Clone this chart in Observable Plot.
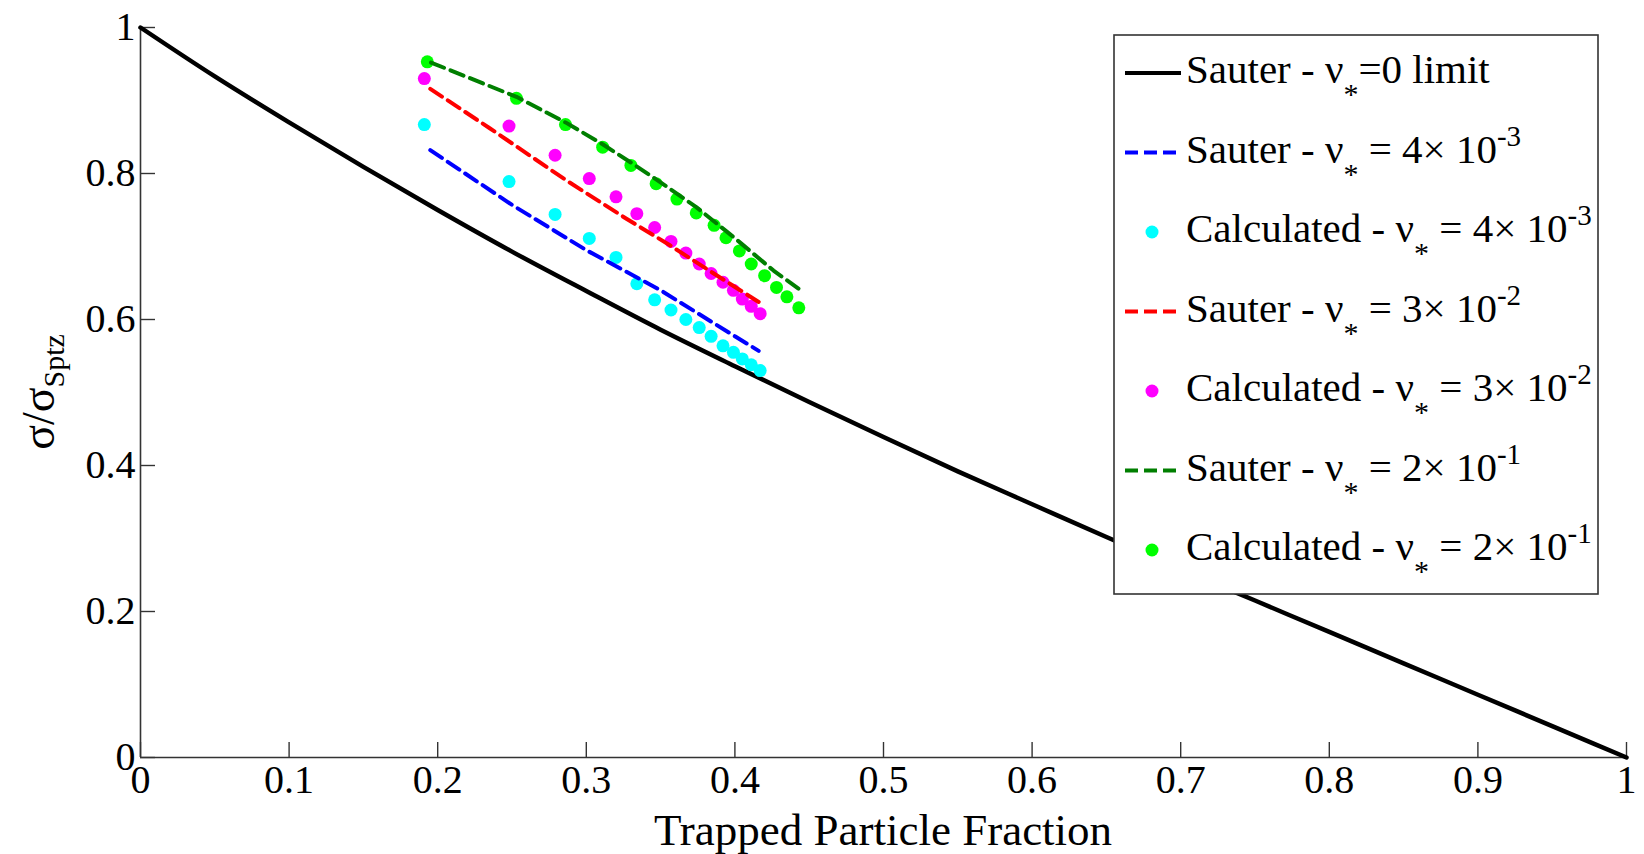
<!DOCTYPE html>
<html><head><meta charset="utf-8">
<script src="https://cdn.jsdelivr.net/npm/d3@7"></script>
<script src="https://cdn.jsdelivr.net/npm/@observablehq/plot@0.6"></script>
<style>
html,body{margin:0;padding:0;background:#fff;}
#wrap{position:relative;width:1644px;height:854px;}
#wrap svg{display:block;}
#legend{position:absolute;left:0;top:0;pointer-events:none;}
</style></head><body><div id="wrap"></div>
<script>
// ---- data ----
const xTicks = [0,0.1,0.2,0.3,0.4,0.5,0.6,0.7,0.8,0.9,1];
const yTicks = [0,0.2,0.4,0.6,0.8,1];

// Sauter, nu* = 0 limit (black solid)
const limitFt    = [0,0.05,0.1,0.15,0.2,0.25,0.3,0.35,0.4,0.45,0.5,0.55,0.6,0.65,0.7,0.75,0.8,0.85,0.9,0.95,1];
const limitSigma = [1,0.933,0.870,0.809,0.750,0.693,0.639,0.586,0.536,0.487,0.439,0.392,0.347,0.302,0.258,0.215,0.172,0.129,0.086,0.043,0];

// Sauter dashed curves
const blueFt     = [0.195,0.25,0.30,0.35,0.40,0.416];
const blueSigma  = [0.832,0.757,0.695,0.640,0.577,0.557];
const redFt      = [0.195,0.235,0.287,0.327,0.356,0.385,0.416];
const redSigma   = [0.916,0.862,0.790,0.738,0.702,0.664,0.624];
const greenFt    = [0.1955,0.253,0.286,0.311,0.330,0.347,0.374,0.399,0.4125,0.426,0.443];
const greenSigma = [0.952,0.905,0.870,0.840,0.815,0.792,0.754,0.713,0.690,0.667,0.642];

// Calculated points
const calcFt       = [0.191,0.248,0.279,0.302,0.320,0.334,0.346,0.357,0.367,0.376,0.384,0.392,0.399,0.405,0.411,0.417];
const cyanSigma    = [0.867,0.789,0.744,0.711,0.685,0.649,0.627,0.613,0.600,0.589,0.577,0.564,0.555,0.546,0.538,0.530];
const magentaSigma = [0.930,0.865,0.825,0.793,0.768,0.745,0.726,0.707,0.691,0.676,0.663,0.651,0.640,0.628,0.618,0.608];
const greenCalcFt    = [0.193,0.253,0.286,0.311,0.330,0.347,0.361,0.374,0.386,0.394,0.403,0.411,0.420,0.428,0.435,0.443];
const greenCalcSigma = [0.953,0.903,0.867,0.836,0.811,0.786,0.765,0.746,0.729,0.712,0.694,0.676,0.660,0.644,0.631,0.616];

const colors = {limit:"#000000", blue:"#0000ff", cyan:"#00ffff", red:"#ff0000", magenta:"#ff00ff", dgreen:"#007f00", lgreen:"#00ff00"};
const legendRows = [
  {type:"line", color:colors.limit, dash:null, name:"Sauter", value:"=0 limit", exp:null},
  {type:"line", color:colors.blue, dash:"13,6", name:"Sauter", value:" = 4× 10", exp:"-3"},
  {type:"dot",  color:colors.cyan, name:"Calculated", value:" = 4× 10", exp:"-3"},
  {type:"line", color:colors.red, dash:"13,6", name:"Sauter", value:" = 3× 10", exp:"-2"},
  {type:"dot",  color:colors.magenta, name:"Calculated", value:" = 3× 10", exp:"-2"},
  {type:"line", color:colors.dgreen, dash:"13,6", name:"Sauter", value:" = 2× 10", exp:"-1"},
  {type:"dot",  color:colors.lgreen, name:"Calculated", value:" = 2× 10", exp:"-1"}
];

// ---- build tables ----
const zip = (xs, ys) => xs.map((x, i) => ({x, y: ys[i]}));
const limit = zip(limitFt, limitSigma);
const blue = zip(blueFt, blueSigma);
const red = zip(redFt, redSigma);
const green = zip(greenFt, greenSigma);
const cyanPts = zip(calcFt, cyanSigma);
const magPts = zip(calcFt, magentaSigma);
const greenPts = zip(greenCalcFt, greenCalcSigma);

const FONT = "'Liberation Serif','Times New Roman',serif";
const W = 1644, H = 854;
const dash = "14,7";

const chart = Plot.plot({
  width: W, height: H,
  marginLeft: 140, marginRight: 18, marginTop: 27, marginBottom: 97,
  style: {fontFamily: FONT, fontSize: "40px", background: "#fff", color: "#000", overflow: "visible"},
  x: {domain: [0, 1]},
  y: {domain: [0, 1]},
  marks: [
    Plot.ruleX([0], {stroke: "#333", strokeWidth: 1.6}),
    Plot.ruleY([0], {stroke: "#333", strokeWidth: 1.6}),
    Plot.axisX(xTicks, {tickSize: -15, tickPadding: 22, stroke: "#333", strokeWidth: 1.4, tickFormat: d => String(d), label: null, fill: "#000"}),
    Plot.axisY(yTicks, {tickSize: -15, tickPadding: 20, stroke: "#333", strokeWidth: 1.4, tickFormat: d => String(d), label: null, fill: "#000"}),
    Plot.line(limit, {x: "x", y: "y", stroke: colors.limit, strokeWidth: 4.5, curve: "monotone-x"}),
    Plot.dot(cyanPts, {x: "x", y: "y", r: 6.5, fill: colors.cyan, stroke: null}),
    Plot.dot(magPts, {x: "x", y: "y", r: 6.5, fill: colors.magenta, stroke: null}),
    Plot.dot(greenPts, {x: "x", y: "y", r: 6.5, fill: colors.lgreen, stroke: null}),
    Plot.line(blue, {x: "x", y: "y", stroke: colors.blue, strokeWidth: 4, strokeDasharray: dash}),
    Plot.line(red, {x: "x", y: "y", stroke: colors.red, strokeWidth: 4, strokeDasharray: dash}),
    Plot.line(green, {x: "x", y: "y", stroke: colors.dgreen, strokeWidth: 4, strokeDasharray: dash})
  ]
});
const wrap = document.getElementById("wrap");
wrap.appendChild(chart);

// axis titles
const svg = d3.select(chart);
svg.append("text")
  .attr("x", 883).attr("y", 845)
  .attr("text-anchor", "middle")
  .attr("font-family", FONT).attr("font-size", 45).attr("fill", "#000")
  .text("Trapped Particle Fraction");
const yl = svg.append("text")
  .attr("transform", "translate(54,392) rotate(-90)")
  .attr("text-anchor", "middle")
  .attr("font-family", FONT).attr("font-size", 46).attr("fill", "#000");
yl.append("tspan").text("σ/σ");
yl.append("tspan").attr("dy", 10).attr("font-size", 30).text("Sptz");

// legend overlay
const lg = d3.select(wrap).append("svg").attr("id", "legend")
  .attr("width", W).attr("height", H);
lg.append("rect").attr("x", 1114).attr("y", 35).attr("width", 484).attr("height", 559)
  .attr("fill", "#fff").attr("stroke", "#333").attr("stroke-width", 1.6);
legendRows.forEach((r, i) => {
  const base = 83 + i * 79.5;
  if (r.type === "line") {
    lg.append("line").attr("x1", 1125).attr("x2", 1181).attr("y1", base - 10).attr("y2", base - 10)
      .attr("stroke", r.color).attr("stroke-width", 4)
      .attr("stroke-dasharray", r.dash);
  } else {
    lg.append("circle").attr("cx", 1152).attr("cy", base - 10).attr("r", 6.5).attr("fill", r.color);
  }
  const t = lg.append("text").attr("x", 1186).attr("y", base)
    .attr("font-family", FONT).attr("font-size", 41).attr("fill", "#000");
  t.append("tspan").text(r.name + " - ν");
  t.append("tspan").attr("dy", 21).attr("font-size", 30).text("*");
  t.append("tspan").attr("dy", -21).text(r.value);
  if (r.exp) t.append("tspan").attr("dy", -17).attr("font-size", 29).text(r.exp);
});
</script>
</body></html>
